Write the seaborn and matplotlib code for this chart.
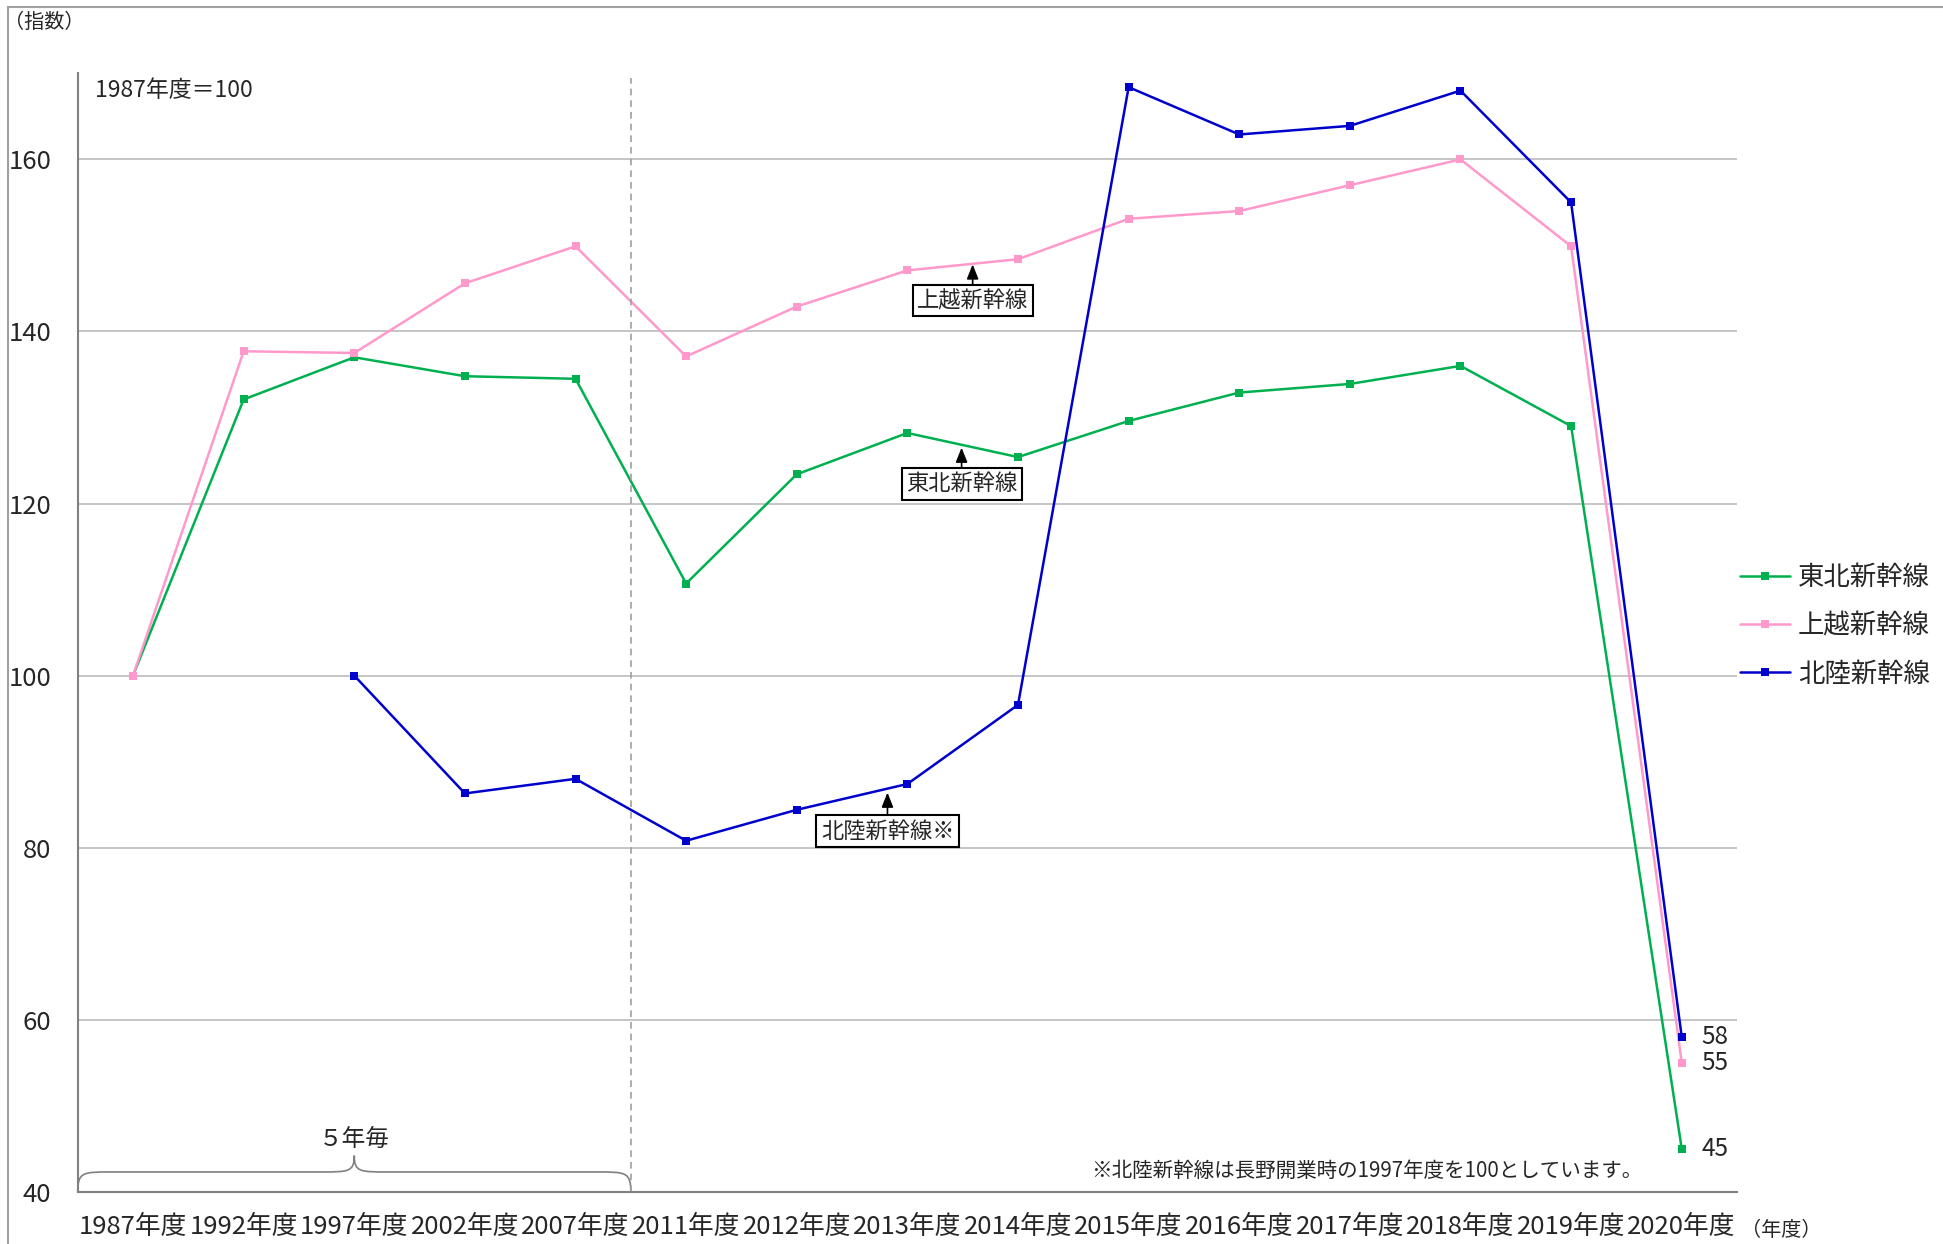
import numpy as np
import pandas as pd
import matplotlib
matplotlib.use('Agg')
import matplotlib.pyplot as plt
import seaborn as sns
from matplotlib.path import Path
from matplotlib.patches import PathPatch, Rectangle

# データ
years = ['1987年度', '1992年度', '1997年度', '2002年度', '2007年度', '2011年度', '2012年度',
         '2013年度', '2014年度', '2015年度', '2016年度', '2017年度', '2018年度', '2019年度', '2020年度']
tohoku = [100, 132.1, 137.0, 134.8, 134.5, 110.7, 123.4, 128.2, 125.4, 129.6, 132.9, 133.9, 136.0, 129.0, 45]
joetsu = [100, 137.7, 137.5, 145.6, 149.9, 137.1, 142.9, 147.1, 148.4, 153.1, 154.0, 157.0, 160.0, 149.9, 55]
hokuriku = [np.nan, np.nan, 100, 86.3, 88.0, 80.8, 84.4, 87.4, 96.6, 168.4, 162.9, 163.9, 168.0, 155.0, 58]
line_names = ['東北新幹線', '上越新幹線', '北陸新幹線']
line_colors = ['#00B050', '#FF99CC', '#0000CC']
end_labels = ['45', '55', '58']

df = pd.concat([
    pd.DataFrame({'年度': years, '指数': vals, '路線': name})
    for name, vals in zip(line_names, [tohoku, joetsu, hokuriku])
], ignore_index=True)

sns.set_theme(style='white')
plt.rcParams['font.family'] = ['Noto Sans CJK JP', 'DejaVu Sans']

fig = plt.figure(figsize=(19.43, 12.44), dpi=100)
ax = fig.add_axes([0.040, 0.042, 0.854, 0.899])

sns.lineplot(data=df, x='年度', y='指数', hue='路線', hue_order=line_names,
             palette=line_colors, marker='s', markersize=6, markeredgewidth=0,
             linewidth=1.8, sort=False, ax=ax)

n = len(years)
ax.set_xlim(-0.5, n - 0.5)
ax.set_ylim(40, 170)
ax.set_yticks(range(40, 161, 20))
ax.set_xticks(range(n))
ax.set_xticklabels(years)
ax.set_xticks(np.arange(-0.5, n, 1), minor=True)
ax.tick_params(axis='x', which='major', length=0, pad=16, labelsize=18.5)
ax.tick_params(axis='x', which='minor', length=7, width=1.5, color='#808080', direction='out')
ax.tick_params(axis='y', length=7, width=1.5, color='#808080', direction='out', labelsize=18.5, pad=12)
ax.set_xlabel('')
ax.set_ylabel('')
ax.yaxis.grid(True, color='#C0C0C0', linewidth=1.3)
for s in ['top', 'right']:
    ax.spines[s].set_visible(False)
for s in ['left', 'bottom']:
    ax.spines[s].set_color('#808080')
    ax.spines[s].set_linewidth(1.5)

# 5年毎の区切り
ax.axvline(4.5, ymin=0, ymax=(169.5 - 40) / 130, color='#A0A0A0', linestyle=(0, (4, 3)), linewidth=1.2)

# 中括弧
x0, x1, xm = -0.5, 4.5, 2.0
yb, yh, yt = 40.0, 42.3, 44.2
codes = [Path.MOVETO, Path.CURVE4, Path.CURVE4, Path.CURVE4,
         Path.LINETO, Path.CURVE4, Path.CURVE4, Path.CURVE4,
         Path.CURVE4, Path.CURVE4, Path.CURVE4,
         Path.LINETO, Path.CURVE4, Path.CURVE4, Path.CURVE4]
verts = [(x0, yb), (x0, yh), (x0 + 0.05, yh), (x0 + 0.3, yh),
         (xm - 0.3, yh), (xm - 0.05, yh), (xm, yh), (xm, yt),
         (xm, yh), (xm + 0.05, yh), (xm + 0.3, yh),
         (x1 - 0.3, yh), (x1 - 0.05, yh), (x1, yh), (x1, yb)]
ax.add_patch(PathPatch(Path(verts, codes), facecolor='none', edgecolor='#808080', linewidth=1.2, clip_on=False))
ax.text(xm, 46.0, '５年毎', ha='center', va='center', fontsize=17)

# 系列名の注記
box = dict(boxstyle='square,pad=0.2', facecolor='white', edgecolor='black', linewidth=1.5)
arrow = dict(arrowstyle='-|>,head_width=0.22,head_length=0.55', color='black', linewidth=1.2,
             shrinkA=0, shrinkB=0)
notes = [('上越新幹線', 7.59, 147.8, 143.6), ('東北新幹線', 7.49, 126.5, 122.3), ('北陸新幹線※', 6.82, 86.4, 81.9)]
for label, xp, ytip, ybox in notes:
    ax.annotate(label, xy=(xp, ytip), xytext=(xp, ybox), ha='center', va='center',
                fontsize=16, bbox=box, arrowprops=arrow)

# 最終値ラベル
for vals, lab in zip([tohoku, joetsu, hokuriku], end_labels):
    ax.annotate(lab, xy=(n - 1, vals[-1]), xytext=(14, 0), textcoords='offset points',
                ha='left', va='center', fontsize=17.5)

ax.text(-0.34, 168.0, '1987年度＝100', ha='left', va='center', fontsize=16.5)
ax.text(13.64, 42.4, '※北陸新幹線は長野開業時の1997年度を100としています。', ha='right', va='center', fontsize=14.8)

fig.text(0.002, 0.982, '（指数）', ha='left', va='center', fontsize=14.5)
fig.text(0.896, 0.011, '（年度）', ha='left', va='center', fontsize=14.5)

# 凡例
ax.legend(title=None, frameon=False, loc='center left', bbox_to_anchor=(1.0, 0.506),
          borderaxespad=0, borderpad=0.1, fontsize=19, handlelength=1.9,
          labelspacing=0.8, handletextpad=0.3)

# 外枠
fig.add_artist(Rectangle((0.004, -0.01), 1.2, 1.004, transform=fig.transFigure,
                         fill=False, edgecolor='#A0A0A0', linewidth=1.5))

fig.savefig('out.png', dpi=100)
